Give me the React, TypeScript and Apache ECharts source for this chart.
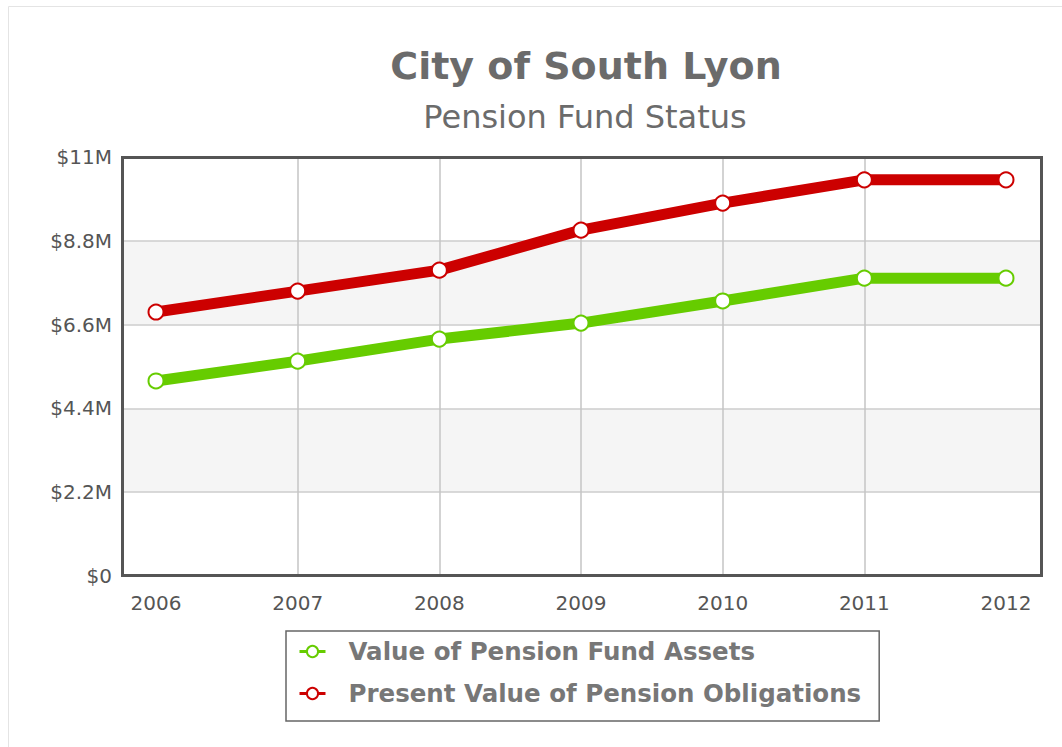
import React, { useEffect, useRef } from "react";
import * as echarts from "echarts";

const years = ["2006", "2007", "2008", "2009", "2010", "2011", "2012"];
const assets = [5.12, 5.64, 6.22, 6.64, 7.22, 7.82, 7.82];
const obligations = [6.93, 7.48, 8.03, 9.08, 9.79, 10.4, 10.4];
const yMax = 11;
const yStep = 2.2;

const FONT = "DejaVu Sans";

export default function App() {
  const ref = useRef<HTMLDivElement>(null);
  useEffect(() => {
    if (!ref.current) return;
    const chart = echarts.init(ref.current, undefined, { renderer: "svg" });
    const fmt = (v: number) => {
      const n = parseFloat(v.toFixed(1));
      return n === 0 ? "$0" : "$" + n + "M";
    };
    chart.setOption({
      animation: false,
      backgroundColor: "#ffffff",
      title: [
        {
          text: "City of South Lyon",
          left: 581,
          textAlign: "center",
          top: 42,
          textStyle: { fontFamily: FONT, fontSize: 38, fontWeight: "bold", color: "#6b6b6b" },
        },
        {
          text: "Pension Fund Status",
          left: 580,
          textAlign: "center",
          top: 96,
          textStyle: { fontFamily: FONT, fontSize: 32, fontWeight: "normal", color: "#6b6b6b" },
        },
      ],
      graphic: [
        {
          type: "polyline",
          shape: { points: [[8.5, 747], [8.5, 6.5], [1062, 6.5]] },
          style: { stroke: "#e4e4e4", lineWidth: 1, fill: "none" },
          silent: true,
        },
        {
          type: "rect",
          shape: { x: 122.5, y: 157.5, width: 919, height: 418 },
          style: { stroke: "#555555", lineWidth: 3, fill: "none" },
          silent: true,
          z: 10,
        },
      ],
      legend: {
        orient: "vertical",
        left: 286,
        top: 631,
        padding: [8, 18, 15, 12],
        itemGap: 17,
        itemWidth: 26,
        itemHeight: 14,
        itemTextGap: 4,
        borderColor: "#666666",
        borderWidth: 1.5,
        lineStyle: { width: 3 },
        textStyle: {
          fontFamily: FONT,
          fontSize: 24.5,
          lineHeight: 25,
          fontWeight: "bold",
          color: "#777777",
          padding: [0, 0, 0, 18],
        },
        data: ["Value of Pension Fund Assets", "Present Value of Pension Obligations"],
      },
      grid: [
        { left: 122, right: 20, top: 157, bottom: 171 },
        { left: 156, right: 56, top: 157, bottom: 171 },
      ],
      xAxis: [
        { type: "value", gridIndex: 0, show: false, min: 0, max: 1 },
        {
          type: "category",
          gridIndex: 1,
          data: years,
          boundaryGap: false,
          axisLine: { show: false },
          axisTick: { show: false },
          axisLabel: { margin: 17, fontFamily: FONT, fontSize: 20, color: "#555555" },
          splitLine: {
            show: true,
            interval: (i: number) => i > 0 && i < years.length - 1,
            lineStyle: { color: "#c4c4c4", width: 1.5 },
          },
        },
      ],
      yAxis: [
        {
          type: "value",
          gridIndex: 0,
          min: 0,
          max: yMax,
          interval: yStep,
          axisLine: { show: false },
          axisTick: { show: false },
          axisLabel: { margin: 10, fontFamily: FONT, fontSize: 20, color: "#555555", formatter: fmt },
          splitLine: { show: true, lineStyle: { color: "#cccccc", width: 1.5 } },
          splitArea: { show: true, areaStyle: { color: ["#ffffff", "#f5f5f5"] } },
        },
        { type: "value", gridIndex: 1, min: 0, max: yMax, show: false, splitLine: { show: false } },
      ],
      series: [
        {
          name: "Value of Pension Fund Assets",
          type: "line",
          xAxisIndex: 1,
          yAxisIndex: 1,
          data: assets,
          symbol: "circle",
          symbolSize: 15,
          showAllSymbol: true,
          lineStyle: { color: "#66cc00", width: 11 },
          itemStyle: { color: "#ffffff", borderColor: "#66cc00", borderWidth: 2 },
          color: "#66cc00",
          z: 3,
        },
        {
          name: "Present Value of Pension Obligations",
          type: "line",
          xAxisIndex: 1,
          yAxisIndex: 1,
          data: obligations,
          symbol: "circle",
          symbolSize: 15,
          showAllSymbol: true,
          lineStyle: { color: "#cc0000", width: 11 },
          itemStyle: { color: "#ffffff", borderColor: "#cc0000", borderWidth: 2 },
          color: "#cc0000",
          z: 3,
        },
      ],
    });
    return () => chart.dispose();
  }, []);
  return (
    <div
      ref={ref}
      style={{ position: "fixed", left: 0, top: 0, width: 1062, height: 747 }}
    />
  );
}
